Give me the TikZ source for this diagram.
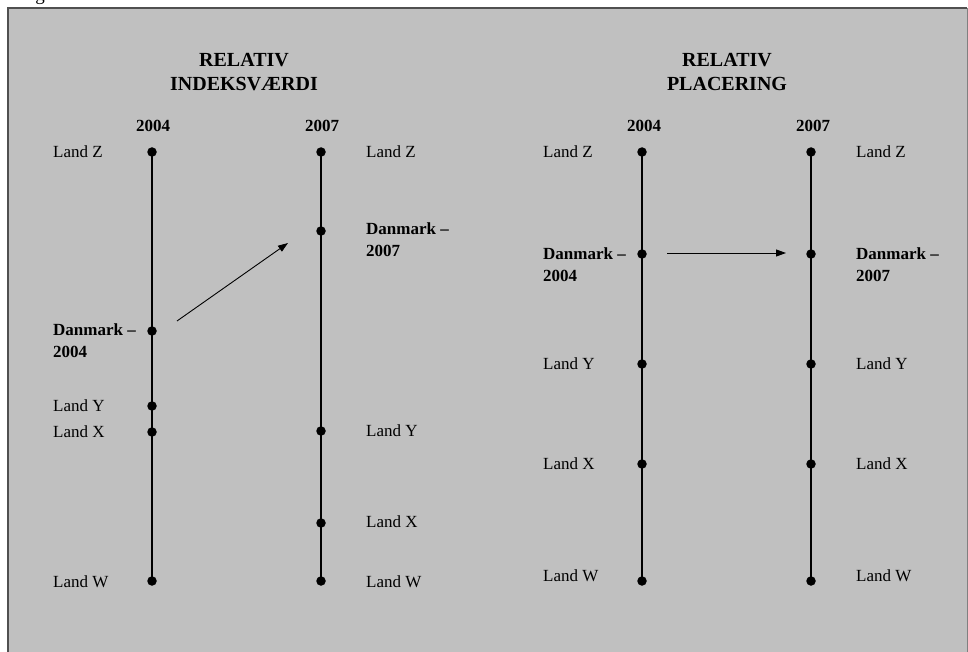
\documentclass[tikz,border=0pt]{standalone}
\usepackage{fontspec}
\setmainfont{Liberation Serif}
\usetikzlibrary{arrows.meta}
\definecolor{panelgray}{HTML}{C0C0C0}
\definecolor{framegray}{HTML}{505050}
\tikzset{
  dot/.style={circle, fill=black, inner sep=0pt, minimum size=9.5pt},
  lbl/.style={inner sep=0pt, font=\fontsize{17}{21.5}\selectfont},
  lbll/.style={lbl, anchor=west},
  dklbl/.style={inner sep=0pt, anchor=north west, align=left, font=\fontsize{17}{21.5}\selectfont\bfseries},
  yearlbl/.style={inner sep=0pt, font=\fontsize{17}{20}\selectfont\bfseries},
  head/.style={inner sep=0pt, anchor=north, align=center, font=\fontsize{20}{24}\selectfont\bfseries},
  axis/.style={line width=1.2pt, draw=black},
  arr/.style={line width=0.9pt, -{Triangle[length=10pt,width=7pt]}}
}
\begin{document}
\begin{tikzpicture}[x=1pt, y=-1pt]
\useasboundingbox (0,0) rectangle (968,652);
% frame
\fill[panelgray] (8,8) rectangle (968,660);
\draw[framegray, line width=1.8pt] (8,660) -- (8,8) -- (967,8);
\draw[gray, line width=0.6pt] (967,8) -- (967,660);
\node[inner sep=0pt, anchor=base, font=\fontsize{19}{20}\selectfont] (gfrag) at (40,1) {g};

% ---------------- left panel: RELATIV INDEKSVÆRDI
\node[head] (h1) at (244,53) {RELATIV\\INDEKSVÆRDI};
\node[yearlbl] (y1a) at (153,126) {2004};
\node[yearlbl] (y1b) at (322,126) {2007};

\node[dot] (a1) at (152,152) {};
\node[dot] (a2) at (152,331) {};
\node[dot] (a3) at (152,406) {};
\node[dot] (a4) at (152,432) {};
\node[dot] (a5) at (152,581) {};
\draw[axis] (a1.center) -- (a5.center);

\node[dot] (b1) at (321,152) {};
\node[dot] (b2) at (321,231) {};
\node[dot] (b3) at (321,431) {};
\node[dot] (b4) at (321,523) {};
\node[dot] (b5) at (321,581) {};
\draw[axis] (b1.center) -- (b5.center);

\node[lbll] (la1) at (53,152) {Land Z};
\node[dklbl] (la2) at (53,324) {Danmark –\\2004};
\node[lbll] (la3) at (53,406) {Land Y};
\node[lbll] (la4) at (53,432) {Land X};
\node[lbll] (la5) at (53,582) {Land W};

\node[lbll] (lb1) at (366,152) {Land Z};
\node[dklbl] (lb2) at (366,223) {Danmark –\\2007};
\node[lbll] (lb3) at (366,431) {Land Y};
\node[lbll] (lb4) at (366,522) {Land X};
\node[lbll] (lb5) at (366,582) {Land W};

\coordinate (ar1s) at (177,321);
\coordinate (ar1e) at (288,243);
\draw[arr] (ar1s) -- (ar1e);

% ---------------- right panel: RELATIV PLACERING
\node[head] (h2) at (727,53) {RELATIV\\PLACERING};
\node[yearlbl] (y2a) at (644,126) {2004};
\node[yearlbl] (y2b) at (813,126) {2007};

\node[dot] (c1) at (642,152) {};
\node[dot] (c2) at (642,254) {};
\node[dot] (c3) at (642,364) {};
\node[dot] (c4) at (642,464) {};
\node[dot] (c5) at (642,581) {};
\draw[axis] (c1.center) -- (c5.center);

\node[dot] (d1) at (811,152) {};
\node[dot] (d2) at (811,254) {};
\node[dot] (d3) at (811,364) {};
\node[dot] (d4) at (811,464) {};
\node[dot] (d5) at (811,581) {};
\draw[axis] (d1.center) -- (d5.center);

\node[lbll] (lc1) at (543,152) {Land Z};
\node[dklbl] (lc2) at (543,248) {Danmark –\\2004};
\node[lbll] (lc3) at (543,364) {Land Y};
\node[lbll] (lc4) at (543,464) {Land X};
\node[lbll] (lc5) at (543,576) {Land W};

\node[lbll] (ld1) at (856,152) {Land Z};
\node[dklbl] (ld2) at (856,248) {Danmark –\\2007};
\node[lbll] (ld3) at (856,364) {Land Y};
\node[lbll] (ld4) at (856,464) {Land X};
\node[lbll] (ld5) at (856,576) {Land W};

\coordinate (ar2s) at (667,253);
\coordinate (ar2e) at (786,253);
\draw[arr] (ar2s) -- (ar2e);
\end{tikzpicture}
\end{document}
